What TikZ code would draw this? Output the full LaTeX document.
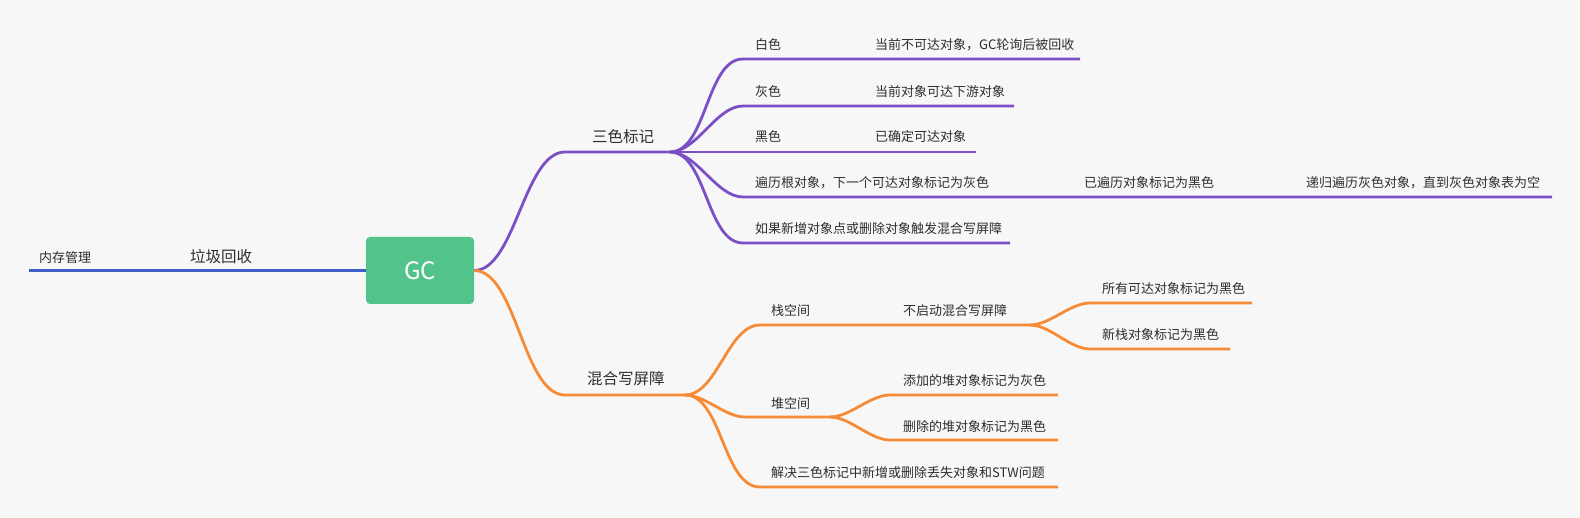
\documentclass[tikz,border=0pt]{standalone}
\usepackage{fontspec}
\setmainfont{Noto Sans CJK SC}
\definecolor{bg}{HTML}{F7F7F7}
\definecolor{pur}{HTML}{7B4FC6}
\definecolor{org}{HTML}{F78B35}
\definecolor{blu}{HTML}{3E5FC6}
\definecolor{grn}{HTML}{52C48B}
\definecolor{txt}{HTML}{2E2E2E}
\begin{document}
\begin{tikzpicture}[x=1pt,y=-1pt,
  sm/.style={anchor=west,inner sep=0pt,text=txt,font=\fontsize{13}{15}\selectfont},
  md/.style={anchor=west,inner sep=0pt,text=txt,font=\fontsize{15.5}{18}\selectfont},
  pl/.style={draw=pur,line width=2.8pt},
  ol/.style={draw=org,line width=2.8pt},
  bl/.style={draw=blu,line width=2.8pt},
  br/.style={out=0,in=180,looseness=0.8}]
\fill[bg] (0,0) rectangle (1580,518);
\useasboundingbox (0,0) rectangle (1580,518);

% root
\node[fill=grn, rounded corners=4pt, minimum width=108pt, minimum height=67pt,
      inner sep=0pt, text=white, font=\fontsize{24}{28}\selectfont] (gc) at (420,270.5) {GC};
\coordinate (b0) at (29,270.5);
\draw[bl] (b0) -- (gc.west);
\node[sm] (mem) at (39,258) {内存管理};
\node[md] (lj) at (190,257) {垃圾回收};

% purple branch
\coordinate (p0) at (565,152);
\coordinate (pj) at (670,152);
\draw[pl] (gc.east) to[out=0,in=180,looseness=0.7] (p0) -- (pj);
\node[md] (sanse) at (592,137) {三色标记};

\coordinate (w0) at (743,59);  \coordinate (w1) at (1080,59);
\coordinate (g0) at (743,106); \coordinate (g1) at (1014,106);
\coordinate (k0) at (743,152); \coordinate (k1) at (976,152);
\coordinate (r0) at (743,197); \coordinate (r1) at (1552,197);
\coordinate (f0) at (743,243); \coordinate (f1) at (1010,243);
\draw[pl] (pj) to[br] (w0) -- (w1);
\draw[pl] (pj) to[br] (g0) -- (g1);
\draw[pl] (pj) -- (k0) -- (k1);
\draw[pl] (pj) to[br] (r0) -- (r1);
\draw[pl] (pj) to[br] (f0) -- (f1);

\node[sm] (wa) at (755,45) {白色};
\node[sm] (wb) at (875,45) {当前不可达对象，GC轮询后被回收};
\node[sm] (ga) at (755,92) {灰色};
\node[sm] (gb) at (875,92) {当前对象可达下游对象};
\node[sm] (ka) at (755,137) {黑色};
\node[sm] (kb) at (875,137) {已确定可达对象};
\node[sm] (ra) at (755,183) {遍历根对象，下一个可达对象标记为灰色};
\node[sm] (rb) at (1084,183) {已遍历对象标记为黑色};
\node[sm] (rc) at (1306,183) {递归遍历灰色对象，直到灰色对象表为空};
\node[sm] (fa) at (755,229) {如果新增对象点或删除对象触发混合写屏障};

% orange branch
\coordinate (o0) at (565,395);
\coordinate (oj) at (685,395);
\draw[ol] (gc.east) to[out=0,in=180,looseness=0.7] (o0) -- (oj);
\node[md] (hh) at (587,379) {混合写屏障};

\coordinate (s0) at (760,325); \coordinate (sj) at (1030,325);
\coordinate (sa0) at (1090,303); \coordinate (sa1) at (1252,303);
\coordinate (sb0) at (1090,349); \coordinate (sb1) at (1230,349);
\draw[ol] (oj) to[br] (s0) -- (sj);
\draw[ol] (sj) to[br] (sa0) -- (sa1);
\draw[ol] (sj) to[br] (sb0) -- (sb1);

\coordinate (h0) at (745,417); \coordinate (hj) at (830,417);
\coordinate (ha0) at (890,395); \coordinate (ha1) at (1058,395);
\coordinate (hb0) at (890,440); \coordinate (hb1) at (1058,440);
\draw[ol] (oj) to[br] (h0) -- (hj);
\draw[ol] (hj) to[br] (ha0) -- (ha1);
\draw[ol] (hj) to[br] (hb0) -- (hb1);

\coordinate (j0) at (760,487); \coordinate (j1) at (1058,487);
\draw[ol] (oj) to[br] (j0) -- (j1);

\node[sm] (stk) at (771,311) {栈空间};
\node[sm] (stkb) at (903,311) {不启动混合写屏障};
\node[sm] (stka) at (1102,289) {所有可达对象标记为黑色};
\node[sm] (stkc) at (1102,335) {新栈对象标记为黑色};
\node[sm] (hp) at (771,404) {堆空间};
\node[sm] (hpa) at (903,381) {添加的堆对象标记为灰色};
\node[sm] (hpb) at (903,427) {删除的堆对象标记为黑色};
\node[sm] (sol) at (771,473) {解决三色标记中新增或删除丢失对象和STW问题};
\end{tikzpicture}
\end{document}
